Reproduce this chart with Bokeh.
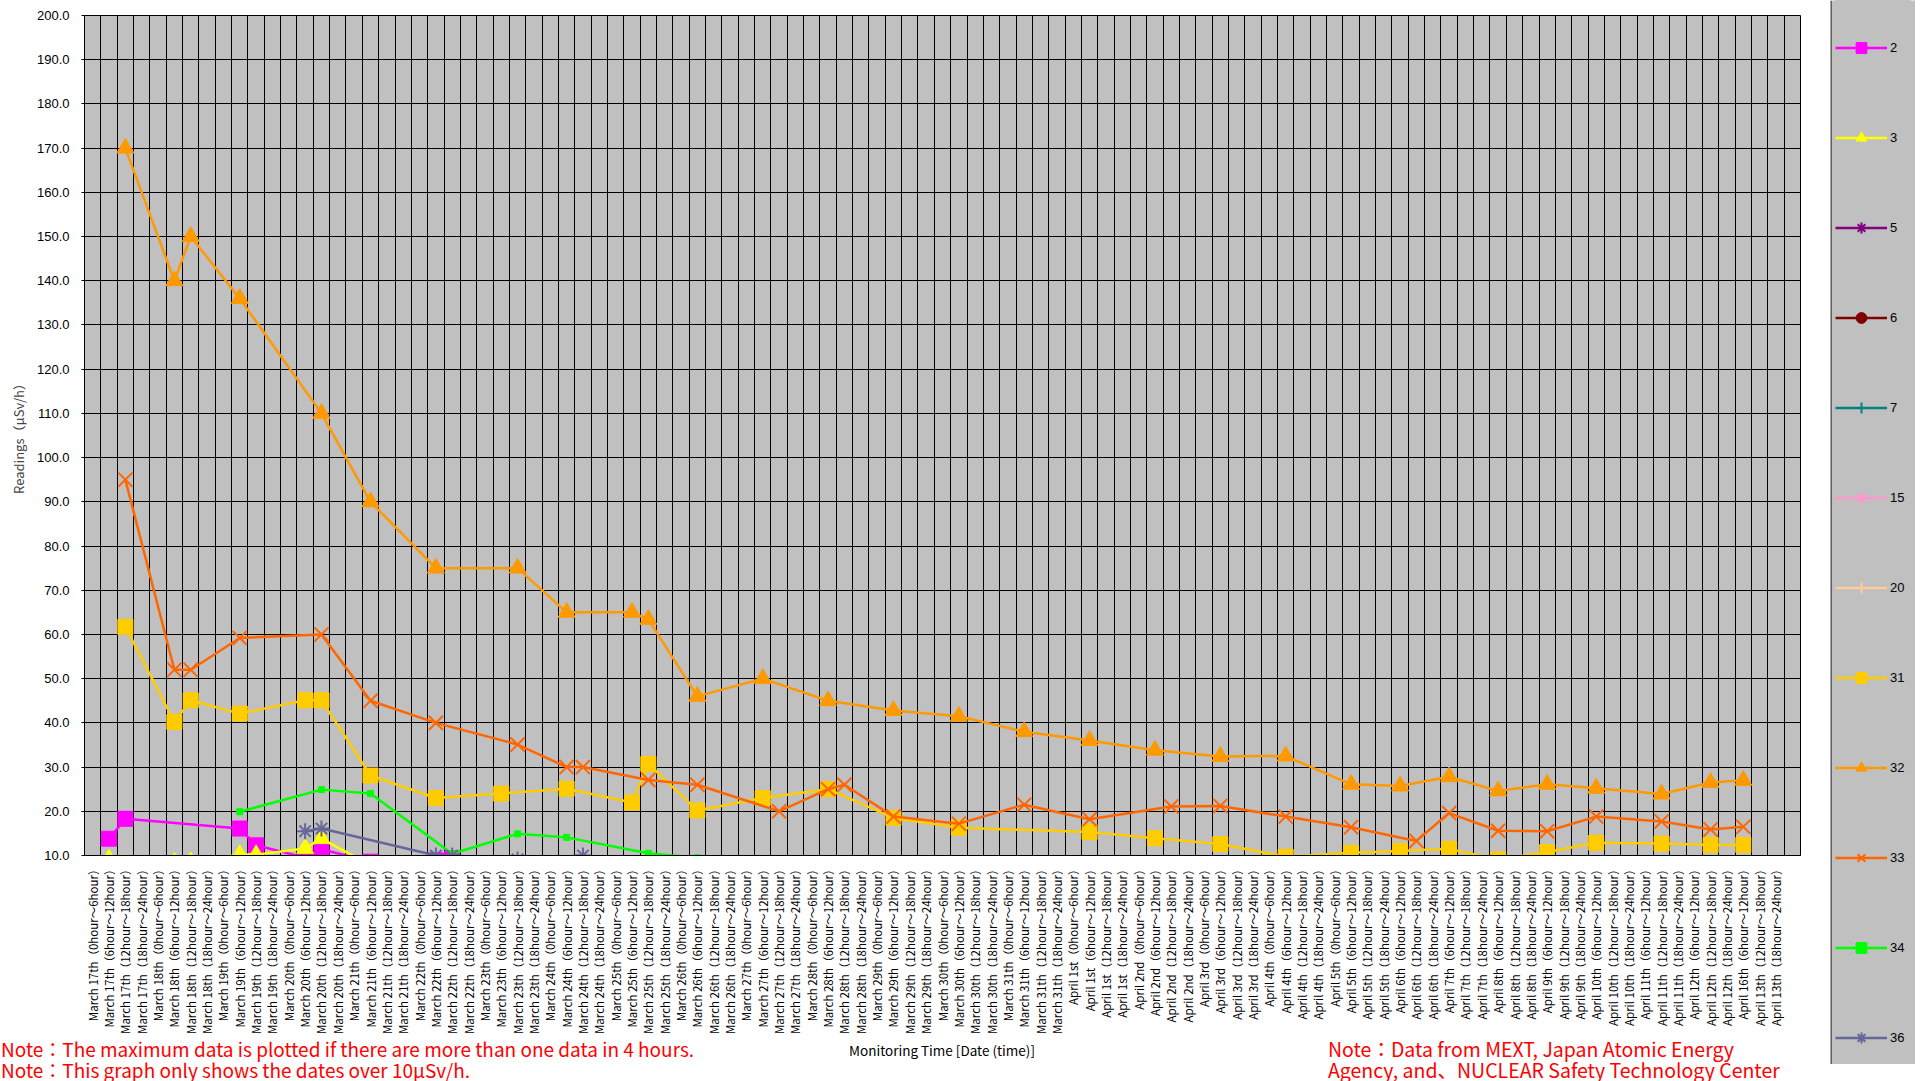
import math
from bokeh.plotting import figure
from bokeh.layouts import row, column
from bokeh.models import (Range1d, FixedTicker, NumeralTickFormatter, Legend,
                          LegendItem, Span, ColumnDataSource, Div)
from bokeh.embed import file_html
from bokeh.resources import INLINE

# ---------------- data ----------------
categories = [
    "March 17th（0hour～6hour）", "March 17th（6hour～12hour）", "March 17th（12hour～18hour）", "March 17th（18hour～24hour）",
    "March 18th（0hour～6hour）", "March 18th（6hour～12hour）", "March 18th（12hour～18hour）", "March 18th（18hour～24hour）",
    "March 19th（0hour～6hour）", "March 19th（6hour～12hour）", "March 19th（12hour～18hour）", "March 19th（18hour～24hour）",
    "March 20th（0hour～6hour）", "March 20th（6hour～12hour）", "March 20th（12hour～18hour）", "March 20th（18hour～24hour）",
    "March 21th（0hour～6hour）", "March 21th（6hour～12hour）", "March 21th（12hour～18hour）", "March 21th（18hour～24hour）",
    "March 22th（0hour～6hour）", "March 22th（6hour～12hour）", "March 22th（12hour～18hour）", "March 22th（18hour～24hour）",
    "March 23th（0hour～6hour）", "March 23th（6hour～12hour）", "March 23th（12hour～18hour）", "March 23th（18hour～24hour）",
    "March 24th（0hour～6hour）", "March 24th（6hour～12hour）", "March 24th（12hour～18hour）", "March 24th（18hour～24hour）",
    "March 25th（0hour～6hour）", "March 25th（6hour～12hour）", "March 25th（12hour～18hour）", "March 25th（18hour～24hour）",
    "March 26th（0hour～6hour）", "March 26th（6hour～12hour）", "March 26th（12hour～18hour）", "March 26th（18hour～24hour）",
    "March 27th（0hour～6hour）", "March 27th（6hour～12hour）", "March 27th（12hour～18hour）", "March 27th（18hour～24hour）",
    "March 28th（0hour～6hour）", "March 28th（6hour～12hour）", "March 28th（12hour～18hour）", "March 28th（18hour～24hour）",
    "March 29th（0hour～6hour）", "March 29th（6hour～12hour）", "March 29th（12hour～18hour）", "March 29th（18hour～24hour）",
    "March 30th（0hour～6hour）", "March 30th（6hour～12hour）", "March 30th（12hour～18hour）", "March 30th（18hour～24hour）",
    "March 31th（0hour～6hour）", "March 31th（6hour～12hour）", "March 31th（12hour～18hour）", "March 31th（18hour～24hour）",
    "April 1st（0hour～6hour）", "April 1st（6hour～12hour）", "April 1st（12hour～18hour）", "April 1st（18hour～24hour）",
    "April 2nd（0hour～6hour）", "April 2nd（6hour～12hour）", "April 2nd（12hour～18hour）", "April 2nd（18hour～24hour）",
    "April 3rd（0hour～6hour）", "April 3rd（6hour～12hour）", "April 3rd（12hour～18hour）", "April 3rd（18hour～24hour）",
    "April 4th（0hour～6hour）", "April 4th（6hour～12hour）", "April 4th（12hour～18hour）", "April 4th（18hour～24hour）",
    "April 5th（0hour～6hour）", "April 5th（6hour～12hour）", "April 5th（12hour～18hour）", "April 5th（18hour～24hour）",
    "April 6th（6hour～12hour）", "April 6th（12hour～18hour）", "April 6th（18hour～24hour）",
    "April 7th（6hour～12hour）", "April 7th（12hour～18hour）", "April 7th（18hour～24hour）",
    "April 8th（6hour～12hour）", "April 8th（12hour～18hour）", "April 8th（18hour～24hour）",
    "April 9th（6hour～12hour）", "April 9th（12hour～18hour）", "April 9th（18hour～24hour）",
    "April 10th（6hour～12hour）", "April 10th（12hour～18hour）", "April 10th（18hour～24hour）",
    "April 11th（6hour～12hour）", "April 11th（12hour～18hour）", "April 11th（18hour～24hour）",
    "April 12th（6hour～12hour）", "April 12th（12hour～18hour）", "April 12th（18hour～24hour）",
    "April 16th（6hour～12hour）", "April 13th（12hour～18hour）", "April 13th（18hour～24hour）",
    "",
]

y_ticks = [10, 20, 30, 40, 50, 60, 70, 80, 90, 100, 110, 120, 130, 140, 150, 160, 170, 180, 190, 200]

# series: index into categories -> reading (values under 10 lie below the axis)
s2_idx = [1, 2, 9, 10, 13, 14, 17, 21, 22]
s2_val = [13.8, 18.3, 16.1, 12.3, 9.5, 11.4, 8.6, 8.9, 9.4]

s3_idx = [1, 2, 5, 6, 9, 10, 13, 14, 17]
s3_val = [9.2, 8.0, 8.5, 8.6, 10.2, 10.2, 11.6, 13.8, 7.8]

s5_idx, s5_val = [], []
s6_idx, s6_val = [], []
s7_idx, s7_val = [], []
s15_idx, s15_val = [], []
s20_idx, s20_val = [], []

s31_idx = [2, 5, 6, 9, 13, 14, 17, 21, 25, 29, 33, 34, 37, 41, 45, 49, 53, 61, 65, 69,
           73, 77, 80, 83, 86, 89, 92, 96, 99, 101]
s31_val = [61.7, 40.2, 45.1, 42.1, 45.1, 45.1, 28.1, 23.0, 24.0, 25.1, 22.0, 30.7, 20.2, 23.0, 25.0,
           18.5, 16.3, 15.3, 13.9, 12.6, 9.7, 10.6, 11.0, 11.5, 9.1, 10.8, 12.9, 12.7, 12.4, 12.4]

s32_idx = [2, 5, 6, 9, 14, 17, 21, 26, 29, 33, 34, 37, 41, 45, 49, 53, 57, 61, 65, 69,
           73, 77, 80, 83, 86, 89, 92, 96, 99, 101]
s32_val = [170, 140, 150, 136, 110, 90, 75, 75, 65, 65, 63.4, 46, 50, 45, 42.8, 41.5, 38, 36.0, 33.8, 32.4,
           32.5, 26.1, 25.7, 27.8, 24.6, 26.1, 25.2, 23.9, 26.5, 27.0]

s33_idx = [2, 5, 6, 9, 14, 17, 21, 26, 29, 30, 34, 37, 42, 45, 46, 49, 53, 57, 61, 66, 69,
           73, 77, 81, 83, 86, 89, 92, 96, 99, 101]
s33_val = [95, 52, 52, 59.2, 60, 45, 40, 35.1, 30, 30, 27.1, 26.0, 20, 25, 26.0, 18.8, 17.2, 21.5, 18.2, 21.1, 21.2,
           18.8, 16.4, 13.3, 19.6, 15.6, 15.5, 18.8, 17.7, 15.9, 16.5]

s34_idx = [9, 14, 17, 22, 26, 29, 34, 37, 41]
s34_val = [19.9, 24.9, 24.0, 10.4, 14.9, 14.1, 10.5, 9.5, 8.4]

s36_idx = [13, 14, 21, 22, 26, 30, 33]
s36_val = [15.5, 16.1, 10.0, 10.0, 9.1, 10.0, 8.3]

series = [
    ("2", "#FF00FF", "square", 15, s2_idx, s2_val),
    ("3", "#FFFF00", "triangle", 17, s3_idx, s3_val),
    ("5", "#800080", "asterisk", 15, s5_idx, s5_val),
    ("6", "#800000", "circle", 12, s6_idx, s6_val),
    ("7", "#008080", "cross", 15, s7_idx, s7_val),
    ("15", "#FF99CC", "asterisk", 15, s15_idx, s15_val),
    ("20", "#FFCC99", "cross", 15, s20_idx, s20_val),
    ("31", "#FFCC00", "square", 15, s31_idx, s31_val),
    ("32", "#FF9900", "triangle", 17, s32_idx, s32_val),
    ("33", "#FF6600", "x", 20, s33_idx, s33_val),
    ("34", "#00FF00", "square", 6, s34_idx, s34_val),
    ("36", "#666699", "asterisk", 16, s36_idx, s36_val),
]

notes_left = ["Note：The maximum data is plotted if there are more than one data in 4 hours.",
              "Note：This graph only shows the dates over 10μSv/h."]
notes_right = ["Note：Data from MEXT, Japan Atomic Energy",
               "Agency, and、NUCLEAR Safety Technology Center"]
x_title = "Monitoring Time [Date (time)]"
y_title = "Readings（μSv/h）"

CJK = "Noto Sans CJK JP"
SANS = "Liberation Sans"

# ---------------- main chart ----------------
p = figure(frame_width=1716, frame_height=840,
           min_border_left=84, min_border_right=20, min_border_top=15, min_border_bottom=200,
           x_range=Range1d(-0.5, len(categories) - 0.5), y_range=Range1d(10, 200),
           output_backend="svg", toolbar_location=None)

p.background_fill_color = "#C0C0C0"
p.border_fill_color = "white"
p.outline_line_color = "black"
p.outline_line_width = 1

p.xgrid.ticker = FixedTicker(ticks=[i - 0.5 for i in range(len(categories) + 1)])
p.xgrid.grid_line_color = "black"
p.xgrid.grid_line_width = 1
p.ygrid.ticker = FixedTicker(ticks=y_ticks)
p.ygrid.grid_line_color = "black"
p.ygrid.grid_line_width = 1

p.yaxis.ticker = FixedTicker(ticks=y_ticks)
p.yaxis.formatter = NumeralTickFormatter(format="0.0")
p.yaxis.major_label_text_font = SANS
p.yaxis.major_label_text_font_size = "13px"
p.yaxis.major_label_text_color = "black"
p.yaxis.major_tick_out = 3
p.yaxis.major_tick_in = 0
p.yaxis.minor_tick_line_color = None
p.yaxis.major_label_standoff = 12
p.yaxis.axis_line_color = "black"
p.yaxis.axis_label = y_title
p.yaxis.axis_label_text_font = CJK
p.yaxis.axis_label_text_font_size = "13px"
p.yaxis.axis_label_text_font_style = "normal"
p.yaxis.axis_label_standoff = 6

p.xaxis.ticker = FixedTicker(ticks=list(range(len(categories))))
p.xaxis.major_label_overrides = {i: c for i, c in enumerate(categories)}
p.xaxis.major_label_orientation = math.pi / 2
p.xaxis.major_label_text_font = CJK
p.xaxis.major_label_text_font_size = "11.5px"
p.xaxis.major_label_text_color = "black"
p.xaxis.major_tick_out = 0
p.xaxis.major_tick_in = 0
p.xaxis.minor_tick_line_color = None
p.xaxis.major_label_standoff = 8
p.xaxis.axis_line_color = "black"

for name, color, marker, size, idx, vals in series:
    src = ColumnDataSource(dict(x=list(idx), y=list(vals)))
    p.line("x", "y", source=src, line_color=color, line_width=2.5)
    line_only = marker in ("x", "asterisk", "cross")
    p.scatter("x", "y", source=src, marker=marker, size=size,
              fill_color=color, line_color=color, line_width=2 if line_only else 1)

# ---------------- notes strip under the chart (HTML text) ----------------
def span(text, left, top, size, color, center=False):
    shift = "transform:translateX(-50%);" if center else ""
    return (f'<span style="position:absolute;left:{left}px;top:{top}px;{shift}'
            f'font-size:{size};color:{color};line-height:20px;white-space:nowrap;">{text}</span>')

notes_html = (
    f'<div style="position:relative;width:1820px;height:12px;overflow:visible;font-family:\'{CJK}\';">'
    + span(notes_left[0], -4, -21, "19px", "#FF0000")
    + span(notes_left[1], -4, 0, "19px", "#FF0000")
    + span(x_title, 937, -20, "13.5px", "#000000", center=True)
    + span(notes_right[0], 1323, -21, "19.5px", "#FF0000")
    + span(notes_right[1], 1323, 0, "19.5px", "#FF0000")
    + '</div>'
)
notes = Div(text=notes_html, width=1820, height=12, styles={"overflow": "visible"})

# ---------------- legend column ----------------
LW, LH = 85, 1064
leg = figure(width=LW, height=LH, min_border=0, x_range=Range1d(0, LW), y_range=Range1d(0, LH),
             x_axis_type=None, y_axis_type=None, output_backend="svg", toolbar_location=None)
leg.grid.visible = False
leg.outline_line_color = None
leg.background_fill_color = "#C0C0C0"
leg.border_fill_color = "#C0C0C0"
leg.add_layout(Span(location=0.5, dimension="height", line_color="black", line_width=1))

NAN = float("nan")
items = [LegendItem(label=" ", renderers=[leg.line([NAN], [NAN], line_alpha=0)])]
for name, color, marker, size, idx, vals in series:
    lp = leg.line([NAN], [NAN], line_color=color, line_width=2.5)
    line_only = marker in ("x", "asterisk", "cross")
    sp = leg.scatter([NAN], [NAN], marker=marker, fill_color=color, line_color=color,
                     line_width=2 if line_only else 1)
    items.append(LegendItem(label=name, renderers=[lp, sp]))
items.append(LegendItem(label=" ", renderers=[leg.line([NAN], [NAN], line_alpha=0)]))

legend = Legend(items=items, location=(5, -77), orientation="vertical",
                glyph_width=52, glyph_height=27, label_height=27, spacing=63,
                padding=12, margin=0, label_standoff=3,
                background_fill_color="#C0C0C0", background_fill_alpha=1,
                border_line_color=None,
                label_text_font=SANS, label_text_font_size="13px", label_text_color="black")
leg.add_layout(legend)

layout = row(column(p, notes), leg)
open("out.html", "w").write(file_html(layout, INLINE))
